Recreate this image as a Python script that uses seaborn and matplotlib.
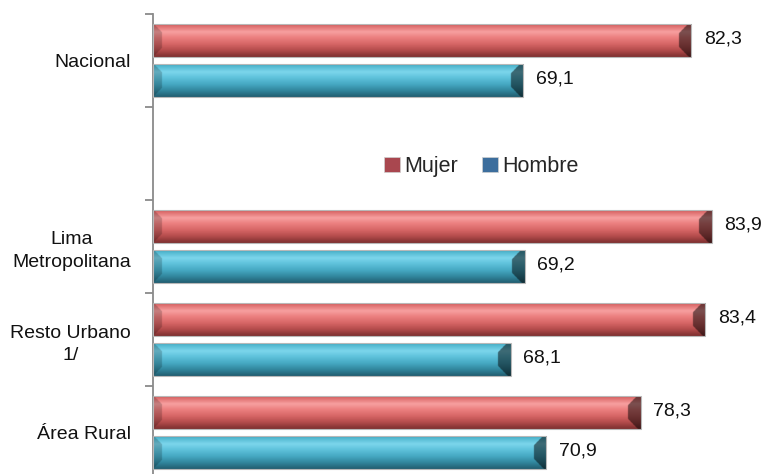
import numpy as np
import pandas as pd
import matplotlib
matplotlib.use("Agg")
import matplotlib.pyplot as plt
from matplotlib.colors import LinearSegmentedColormap
from matplotlib.patches import Patch, Rectangle
import seaborn as sns

# ---- data -------------------------------------------------------------
regiones = ["Nacional", "Lima\nMetropolitana", "Resto Urbano\n1/", "Área Rural"]
mujer = [82.3, 83.9, 83.4, 78.3]
hombre = [69.1, 69.2, 68.1, 70.9]
sexos = ["Mujer", "Hombre"]
# empty slot after "Nacional" holds the legend
orden = ["Nacional", "", "Lima\nMetropolitana", "Resto Urbano\n1/", "Área Rural"]

df = pd.DataFrame({
    "region": regiones * 2,
    "sexo": ["Mujer"] * len(regiones) + ["Hombre"] * len(regiones),
    "valor": mujer + hombre,
})

# ---- style ------------------------------------------------------------
sns.set_style("white")
plt.rcParams["font.family"] = ["Liberation Sans", "DejaVu Sans"]

legend_colors = {"Mujer": "#a9474f", "Hombre": "#3c6e9d"}

# vertical shading profiles for the glossy bars (top -> bottom)
profiles = {
    "Mujer": [(0.0, "#b05050"), (0.08, "#dc6a6a"), (0.26, "#f7a0a0"),
              (0.42, "#ec8080"), (0.62, "#d66565"), (0.8, "#b44c4c"),
              (0.92, "#923a3a"), (1.0, "#7c3030")],
    "Hombre": [(0.0, "#3190a8"), (0.08, "#4fb6ce"), (0.26, "#7cd6ec"),
               (0.42, "#60c3dc"), (0.62, "#46a9c3"), (0.8, "#32889f"),
               (0.92, "#286e82"), (1.0, "#215d6f")],
}

XMIN, XMAX = 40, 88.47

fig = plt.figure(figsize=(7.70, 4.74), dpi=100)
W, H = 770, 474
ax_left, ax_top, band_px = 153, 14, 93
ax_bottom = ax_top + band_px * len(orden)
ax = fig.add_axes([ax_left / W, (H - ax_bottom) / H,
                   (W - ax_left) / W, (ax_bottom - ax_top) / H])

sns.barplot(data=df, y="region", x="valor", hue="sexo", order=orden,
            hue_order=sexos, palette=legend_colors, orient="h",
            width=0.86, gap=0.17, legend=False, ax=ax,
            errorbar=None, saturation=1)

ax.set_xlim(XMIN, XMAX)
ax.set_ylim(len(orden) - 0.5, -0.5)
ax.set_xlabel("")
ax.set_ylabel("")
ax.set_xticks([])

# ---- axis styling -----------------------------------------------------
for s in ["top", "right", "bottom"]:
    ax.spines[s].set_visible(False)
ax.spines["left"].set_color("#8a8a8a")
ax.spines["left"].set_linewidth(1.3)

ax.set_yticks(range(len(orden)))
ax.set_yticklabels(orden, fontsize=14, color="#111111", linespacing=1.45)
for lab in ax.get_yticklabels():
    lab.set_multialignment("center")
ax.set_yticks(np.arange(-0.5, len(orden), 1.0), minor=True)
ax.tick_params(axis="y", which="major", left=True, length=0, pad=16)
ax.tick_params(axis="y", which="minor", left=True, length=6, width=1.3,
               color="#8a8a8a", direction="out")

# ---- glossy shading for each bar --------------------------------------
px_per_unit = (W - ax_left) / (XMAX - XMIN)


def shade(patch, level):
    x0, y0 = patch.get_x(), patch.get_y()
    w, h = patch.get_width(), patch.get_height()
    if not np.isfinite(w) or w <= 0:
        return
    x_start = max(x0, XMIN)
    x_end = x0 + w
    pw = (x_end - x_start) * px_per_unit
    ph = abs(h) * band_px
    ncol = max(int(pw * 2), 4)
    nrow = 80
    cmap = LinearSegmentedColormap.from_list("p", profiles[level])
    v = (np.arange(nrow) + 0.5) / nrow
    col = cmap(v)[:, :3]
    img = np.repeat(col[:, None, :], ncol, axis=1)
    xp = (np.arange(ncol) + 0.5) / ncol * pw
    vp = v * ph
    edge = np.minimum(vp, ph - vp)[:, None]
    ur = (pw - xp)[None, :]
    ul = xp[None, :]
    right = ur < np.minimum(edge + 3, 13)
    left = ul < np.minimum(edge, 9)
    img[right] = img[right] * 0.5
    img[left] = img[left] * 0.8
    im = ax.imshow(img, extent=[x_start, x_end, y0 + h, y0],
                   aspect="auto", interpolation="bilinear", zorder=2.5)
    im.set_clip_path(patch)
    outline = Rectangle((x_start, y0), x_end - x_start, h, fill=False,
                        edgecolor="#b8b8b8", linewidth=0.8, zorder=2.6)
    ax.add_patch(outline)


for cont, level in zip(ax.containers, sexos):
    for patch in cont.patches:
        shade(patch, level)
        val = patch.get_width()
        if np.isfinite(val) and val > 0:
            ax.annotate(f"{val:.1f}".replace(".", ","),
                        xy=(val, patch.get_y() + patch.get_height() / 2),
                        xytext=(9, 1), textcoords="offset points",
                        ha="left", va="center", fontsize=14,
                        color="#111111", annotation_clip=False)

ax.set_xlim(XMIN, XMAX)
ax.set_ylim(len(orden) - 0.5, -0.5)

# ---- legend in the empty slot ------------------------------------------
handles = [Patch(facecolor=legend_colors[s], edgecolor="#d0d0d0",
                 linewidth=0.5, label=s) for s in sexos]
ax.legend(handles=handles, loc="center", bbox_to_anchor=(0.532, 0.672),
          ncol=2, frameon=False, fontsize=15.5, handlelength=0.75,
          handleheight=0.7, handletextpad=0.2, columnspacing=1.1)

fig.savefig("out.png", dpi=100)
